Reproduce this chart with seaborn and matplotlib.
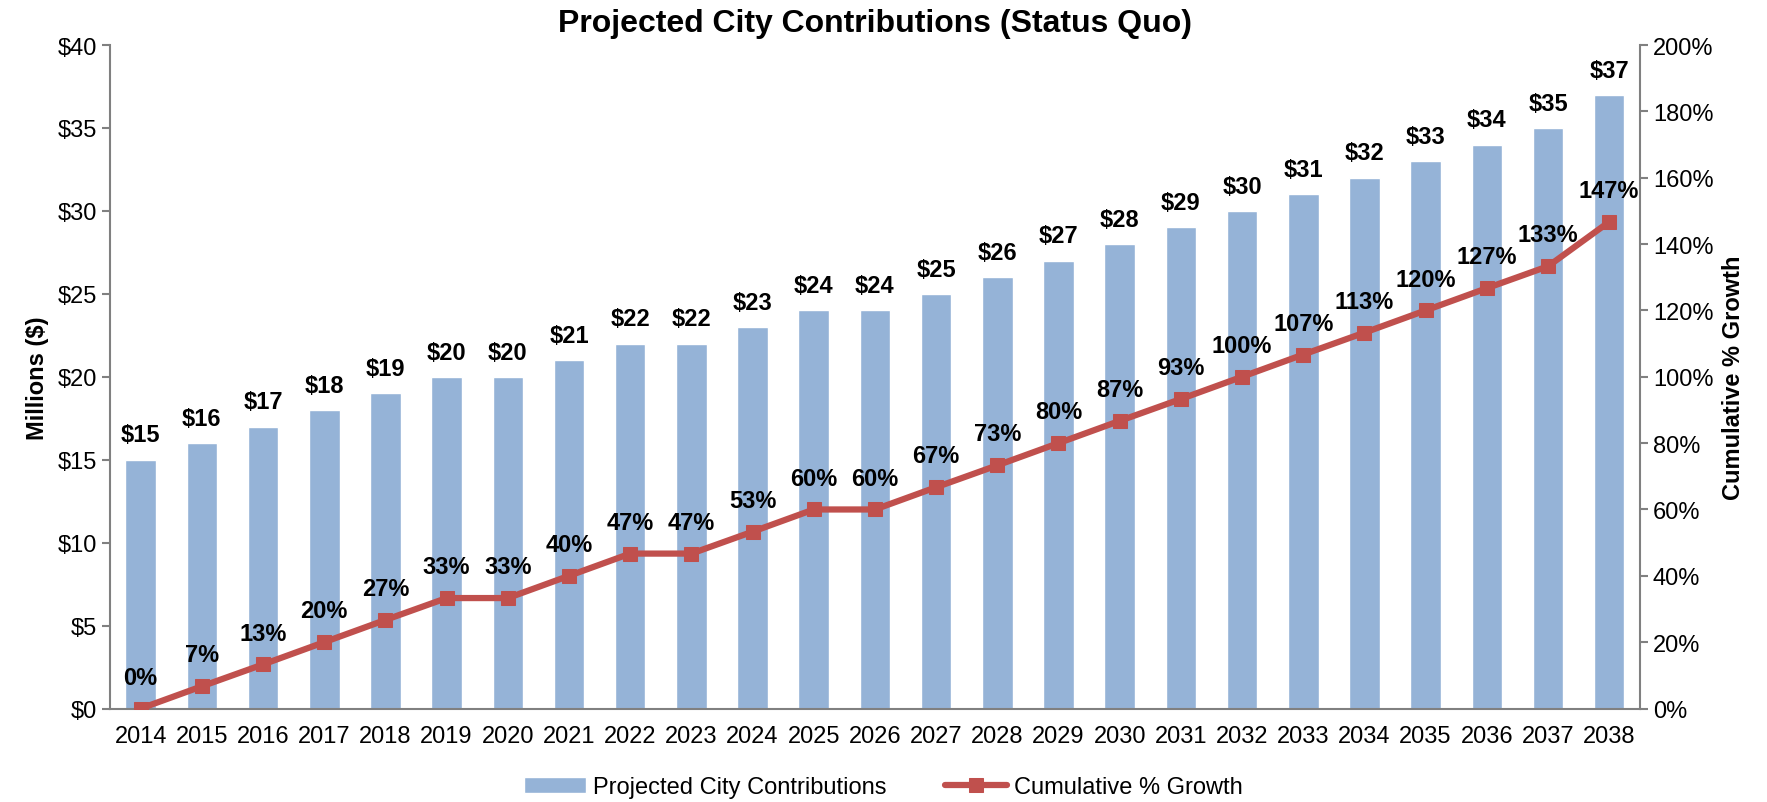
import matplotlib
matplotlib.use("Agg")
import matplotlib.pyplot as plt
from matplotlib.ticker import FuncFormatter, MultipleLocator
import numpy as np
import pandas as pd
import seaborn as sns

years = [str(y) for y in range(2014, 2039)]
contrib = [15, 16, 17, 18, 19, 20, 20, 21, 22, 22, 23, 24, 24, 25, 26, 27, 28, 29,
           30, 31, 32, 33, 34, 35, 37]
growth = [0, 6.7, 13.3, 20, 26.7, 33.3, 33.3, 40, 46.7, 46.7, 53.3, 60, 60, 66.7,
          73.3, 80, 86.7, 93.3, 100, 106.7, 113.3, 120, 126.7, 133.3, 146.7]

bar_color = "#95B3D7"
line_color = "#C0504D"
spine_color = "#808080"

sns.set_style("white")
plt.rcParams["font.family"] = ["Liberation Sans", "DejaVu Sans"]
plt.rcParams["text.color"] = "black"
plt.rcParams["axes.labelcolor"] = "black"
plt.rcParams["xtick.color"] = "black"
plt.rcParams["ytick.color"] = "black"

df = pd.DataFrame({"year": years, "contrib": contrib, "growth": growth})

fig = plt.figure(figsize=(17.67, 8.03), dpi=100)
ax = fig.add_axes([0.0623, 0.1164, 0.8657, 0.8263])

sns.barplot(data=df, x="year", y="contrib", color=bar_color, width=0.5,
            saturation=1, ax=ax, label="Projected City Contributions")
if ax.get_legend() is not None:
    ax.get_legend().remove()
ax.set_xlim(-0.5, len(years) - 0.5)
ax.set_ylim(0, 40)
ax.yaxis.set_major_locator(MultipleLocator(5))
ax.yaxis.set_major_formatter(FuncFormatter(lambda v, p: f"${v:.0f}"))
ax.set_xlabel("")
ax.set_ylabel("Millions ($)", fontsize=17, fontweight="bold", labelpad=6)

for i, v in enumerate(contrib):
    ax.text(i, v + 0.8, f"${v}", ha="center", va="bottom", fontsize=17,
            fontweight="bold")

ax2 = ax.twinx()
sns.lineplot(x=np.arange(len(years)), y=growth, color=line_color, marker="s",
             markersize=10, markeredgecolor=line_color, linewidth=4.5, ax=ax2,
             label="Cumulative % Growth", legend=False)
ax2.set_ylim(0, 200)
ax2.yaxis.set_major_locator(MultipleLocator(20))
ax2.yaxis.set_major_formatter(FuncFormatter(lambda v, p: f"{v:.0f}%"))
ax2.set_ylabel("Cumulative % Growth", fontsize=17, fontweight="bold", labelpad=6)

for i, g in enumerate(growth):
    ax2.text(i, g + 6, f"{g:.0f}%", ha="center", va="bottom", fontsize=17,
             fontweight="bold")

for a in (ax, ax2):
    a.spines["top"].set_visible(False)
    for s in ("left", "right", "bottom"):
        a.spines[s].set_color(spine_color)
        a.spines[s].set_linewidth(1.5)
    a.tick_params(axis="y", labelsize=17, length=6, width=1.5, color=spine_color,
                  labelcolor="black", direction="out")
ax.spines["right"].set_visible(False)
ax2.spines["left"].set_visible(False)
ax2.spines["bottom"].set_visible(False)

ax.tick_params(axis="x", which="major", length=0, labelsize=17, pad=12,
               labelcolor="black")
ax.set_xticks(np.arange(-0.5, len(years), 1.0), minor=True)
ax.tick_params(axis="x", which="minor", length=6, width=1.5, color=spine_color,
               direction="out")
ax.tick_params(axis="y", left=True)
ax2.tick_params(axis="y", right=True)

ax.set_title("Projected City Contributions (Status Quo)", fontsize=23,
             fontweight="bold", pad=10)

h1, l1 = ax.get_legend_handles_labels()
h2, l2 = ax2.get_legend_handles_labels()
fig.legend(h1 + h2, l1 + l2, loc="lower center", bbox_to_anchor=(0.5, -0.022),
           ncol=2, frameon=False, fontsize=17, columnspacing=2.5,
           handlelength=2.6, handletextpad=0.3)

fig.savefig("out.png", dpi=100)
